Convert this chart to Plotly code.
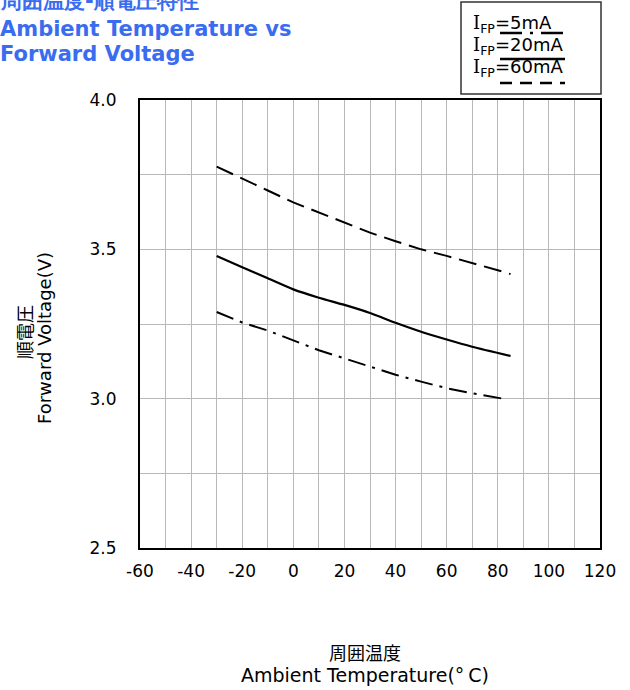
import plotly.graph_objects as go

# Data
temp_5mA = [-30, -20, -10, 0, 10, 20, 30, 40, 50, 60, 70, 82]
vf_5mA = [3.29, 3.255, 3.228, 3.195, 3.162, 3.135, 3.107, 3.08, 3.057, 3.035, 3.018, 3.0]

temp_20mA = [-30, -20, -10, 0, 10, 20, 30, 40, 50, 60, 70, 85]
vf_20mA = [3.478, 3.44, 3.403, 3.366, 3.338, 3.314, 3.287, 3.254, 3.224, 3.198, 3.174, 3.143]

temp_60mA = [-30, -20, -10, 0, 10, 20, 30, 40, 50, 60, 70, 80, 85]
vf_60mA = [3.777, 3.738, 3.697, 3.657, 3.623, 3.589, 3.556, 3.527, 3.50, 3.478, 3.455, 3.43, 3.417]

x_tickvals = [-60, -40, -20, 0, 20, 40, 60, 80, 100, 120]
x_ticktext = ["-60", "-40", "-20", "0", "20", "40", "60", "80", "100", "120"]
y_tickvals = [2.5, 3.0, 3.5, 4.0]
y_ticktext = ["2.5", "3.0", "3.5", "4.0"]

legend_labels = ["5mA", "20mA", "60mA"]

FONT = "DejaVu Sans"
W, H = 630, 690
L, R, T, B = 140, 30, 100, 142
PW, PH = W - L - R, H - T - B


def px_x(p):
    return (p - L) / PW


def px_y(p):
    return 1 - (p - T) / PH


fig = go.Figure()
fig.add_trace(go.Scatter(x=temp_5mA, y=vf_5mA, mode="lines",
                         line=dict(color="black", width=2, dash="18px,7px,3px,7px"),
                         showlegend=False))
fig.add_trace(go.Scatter(x=temp_20mA, y=vf_20mA, mode="lines",
                         line=dict(color="black", width=2.2, shape="spline", smoothing=0.6),
                         showlegend=False))
fig.add_trace(go.Scatter(x=temp_60mA, y=vf_60mA, mode="lines",
                         line=dict(color="black", width=2, dash="18px,8px"),
                         showlegend=False))

grid = "#b8b8b8"
fig.update_xaxes(range=[-60, 120], tickvals=x_tickvals, ticktext=x_ticktext,
                 showgrid=True, gridcolor=grid, gridwidth=1,
                 minor=dict(dtick=10, showgrid=True, gridcolor=grid, gridwidth=1),
                 showline=True, mirror=True, linecolor="black", linewidth=2,
                 ticks="", zeroline=False, ticklabelstandoff=7,
                 tickfont=dict(family=FONT, size=17, color="black"))
fig.update_yaxes(range=[2.5, 4.0], tickvals=y_tickvals, ticktext=y_ticktext,
                 showgrid=True, gridcolor=grid, gridwidth=1,
                 minor=dict(dtick=0.25, showgrid=True, gridcolor=grid, gridwidth=1),
                 showline=True, mirror=True, linecolor="black", linewidth=2,
                 ticks="", zeroline=False, ticklabelstandoff=18,
                 tickfont=dict(family=FONT, size=17, color="black"))

ann = []
# Title
title_lines = ["周囲温度-順電圧特性", "Ambient Temperature vs", "Forward Voltage"]
title_y = [1, 29, 54]
title_size = [21, 21, 21]
for txt, yy, sz in zip(title_lines, title_y, title_size):
    ann.append(dict(text="<b>%s</b>" % txt, x=px_x(-2), y=px_y(yy), xref="paper", yref="paper",
                    xanchor="left", yanchor="middle", showarrow=False,
                    font=dict(family=FONT, size=sz, color="#3a6cf0")))
# X axis title
ann.append(dict(text="周囲温度", x=px_x(365), y=px_y(652), xref="paper", yref="paper",
                xanchor="center", yanchor="middle", showarrow=False,
                font=dict(family="Noto Sans CJK JP", size=18, color="black")))
ann.append(dict(text="Ambient Temperature(°\u2009C)", x=px_x(365), y=px_y(675), xref="paper", yref="paper",
                xanchor="center", yanchor="middle", showarrow=False,
                font=dict(family=FONT, size=19, color="black")))
# Y axis title
ann.append(dict(text="順電圧", x=px_x(24), y=px_y(332), xref="paper", yref="paper",
                xanchor="center", yanchor="middle", showarrow=False, textangle=-90,
                font=dict(family="Noto Sans CJK JP", size=18, color="black")))
ann.append(dict(text="Forward Voltage(V)", x=px_x(44), y=px_y(338), xref="paper", yref="paper",
                xanchor="center", yanchor="middle", showarrow=False, textangle=-90,
                font=dict(family=FONT, size=18, color="black")))

# Legend box text
leg_y = [24, 46, 68]
for lab, yy in zip(legend_labels, leg_y):
    ann.append(dict(text='<span style="font-family:DejaVu Serif">I</span><sub>FP</sub>=%s' % lab,
                    x=px_x(471), y=px_y(yy), xref="paper", yref="paper",
                    xanchor="left", yanchor="middle", showarrow=False,
                    font=dict(family=FONT, size=18, color="black")))

shapes = [
    dict(type="rect", xref="paper", yref="paper", x0=px_x(461), x1=px_x(601),
         y0=px_y(2), y1=px_y(94), line=dict(color="#333333", width=1.5)),
    dict(type="line", xref="paper", yref="paper", x0=px_x(500), x1=px_x(563),
         y0=px_y(33), y1=px_y(33), line=dict(color="black", width=2.5, dash="22px,8px,3px,8px")),
    dict(type="line", xref="paper", yref="paper", x0=px_x(500), x1=px_x(565),
         y0=px_y(59), y1=px_y(59), line=dict(color="black", width=2.5)),
    dict(type="line", xref="paper", yref="paper", x0=px_x(500), x1=px_x(565),
         y0=px_y(83), y1=px_y(83), line=dict(color="black", width=2.5, dash="12px,8px")),
]

fig.update_layout(width=W, height=H, margin=dict(l=L, r=R, t=T, b=B),
                  paper_bgcolor="white", plot_bgcolor="white",
                  annotations=ann, shapes=shapes, showlegend=False)

fig.write_html("out.html", config={"displayModeBar": False},
               post_script="document.body.style.margin='0';document.body.style.overflow='hidden';")
